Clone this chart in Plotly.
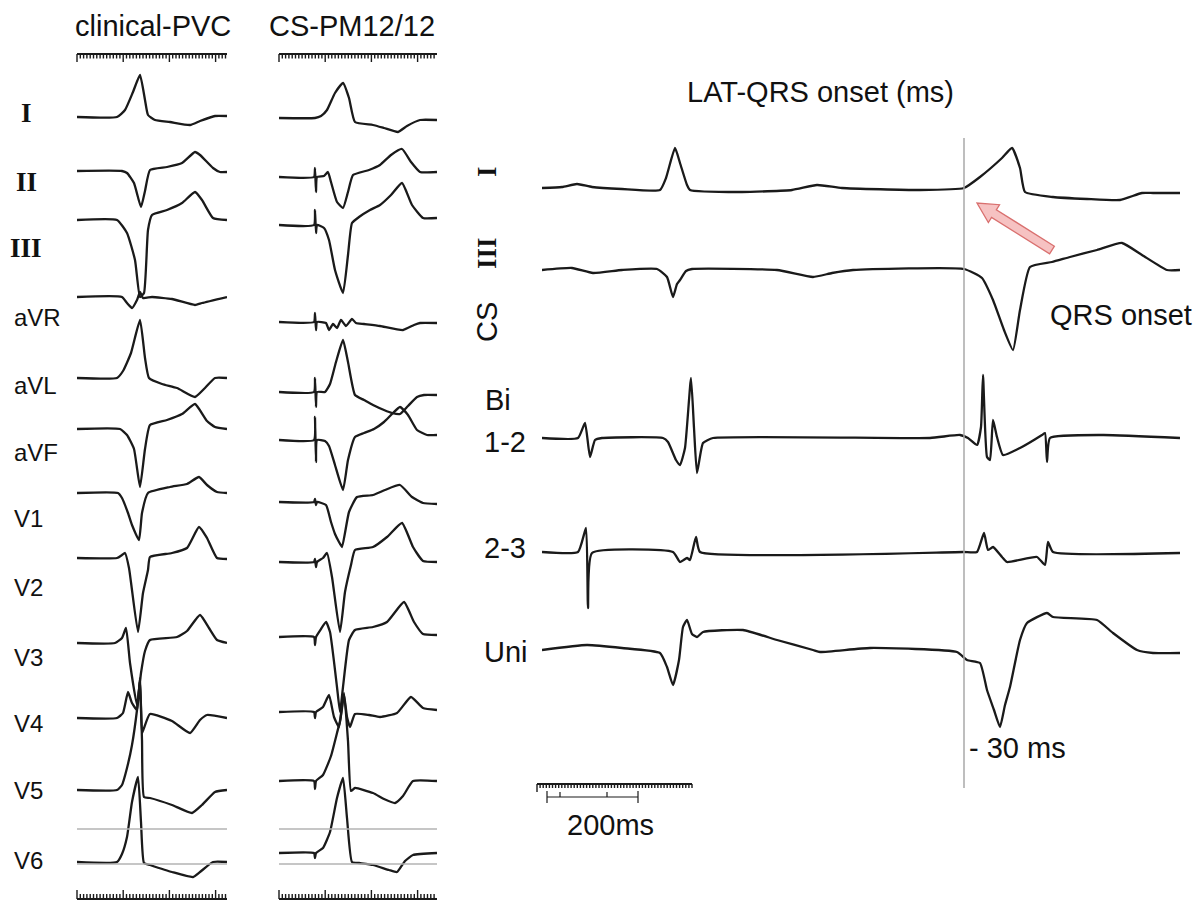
import numpy as np
import plotly.graph_objects as go

W, H = 1196, 902

# ---------------- data: 12-lead ECG, clinical PVC (sample index, amplitude) ----------------
lead_names = ["I", "II", "III", "aVR", "aVL", "aVF", "V1", "V2", "V3", "V4", "V5", "V6"]

pvc_I = [(0,0),(40,0),(48,7),(56,25),(63,42),(68,17),(71,2),(78,-3),(93,-5),(113,-8),(123,-4),(138,1),(150,1)]
pvc_II = [(0,0),(45,0),(50,-2),(57,-12),(64,-36),(68,-20),(73,1),(90,4),(105,8),(118,19),(123,16),(136,3),(143,-1),(150,-1)]
pvc_III = [(0,0),(40,0),(50,-13),(58,-40),(63,-77),(67,-73),(71,-10),(75,5),(90,10),(105,17),(118,28),(125,20),(136,2),(150,0)]
pvc_aVR = [(0,0),(45,0),(50,-6),(55,-11),(60,-3),(63,5),(66,-1),(75,0),(95,-2),(118,-8),(125,-6),(150,0)]
pvc_aVL = [(0,0),(40,0),(46,7),(54,25),(63,58),(68,20),(72,0),(85,-6),(100,-10),(118,-19),(128,-10),(138,0),(150,0)]
pvc_aVF = [(0,0),(43,0),(50,-6),(57,-20),(63,-58),(68,-20),(73,4),(90,9),(105,15),(118,25),(130,8),(138,2),(150,0)]
pvc_V1 = [(0,0),(41,0),(45,-5),(51,-20),(55,-32),(62,-47),(65,-20),(71,0),(93,6),(110,9),(122,16),(130,8),(140,1),(150,0)]
pvc_V2 = [(0,0),(40,0),(45,3),(48,5),(52,-10),(61,-74),(66,-35),(71,-12),(73,1),(95,5),(110,10),(122,31),(130,20),(140,0),(150,-1)]
pvc_V3 = [(0,0),(38,0),(45,5),(49,15),(53,-20),(60,-62),(64,-30),(68,-8),(73,3),(100,6),(110,12),(123,28),(132,15),(140,3),(150,0)]
pvc_V4 = [(0,0),(40,0),(46,5),(51,26),(55,15),(60,8),(63,40),(65,-15),(67,-10),(73,4),(95,-3),(113,-15),(123,-2),(130,3),(150,0)]
pvc_V5 = [(0,0),(40,0),(45,5),(50,22),(55,45),(60,80),(63,110),(65,50),(67,-7),(73,-8),(95,-15),(115,-23),(125,-15),(138,-2),(150,0)]
pvc_V6 = [(0,0),(40,0),(45,8),(50,25),(55,60),(61,85),(64,40),(67,-1),(73,-3),(95,-10),(116,-15),(123,-10),(136,0),(150,0)]

# ---------------- data: 12-lead ECG, CS pace-map 12/12 ----------------
pm_I = [(0,0),(36,0),(42,2),(48,8),(56,25),(64,35),(70,20),(76,-4),(94,-7),(105,-10),(119,-14),(128,-8),(141,-2),(158,-2)]
pm_II = [(0,0),(35,0),(36,9),(37,-15),(38,0),(45,1),(49,5),(52,-5),(58,-25),(64,-31),(69,-15),(74,2),(90,7),(101,12),(112,22),(123,28),(132,15),(141,5),(158,5)]
pm_III = [(0,0),(35,0),(36,15),(37,-8),(38,0),(45,-3),(50,-15),(56,-45),(64,-68),(69,-30),(73,2),(80,8),(91,15),(101,20),(112,30),(123,42),(133,20),(144,7),(158,7)]
pm_aVR = [(0,0),(35,0),(36,9),(37,-8),(38,0),(47,-1),(50,-8),(54,-2),(58,-6),(62,2),(67,-4),(73,3),(77,-1),(85,-2),(101,-4),(124,-8),(135,-3),(141,-1),(158,-1)]
pm_aVL = [(0,0),(35,0),(36,14),(37,-15),(38,0),(46,0),(51,8),(57,30),(64,52),(69,30),(76,-3),(85,-8),(94,-13),(105,-18),(113,-21),(121,-22),(129,-14),(138,-5),(145,-3),(158,-3)]
pm_aVF = [(0,0),(35,0),(36,23),(37,-22),(38,0),(46,-1),(50,-6),(56,-25),(64,-50),(69,-20),(76,3),(85,7),(95,11),(105,18),(113,26),(121,33),(129,25),(138,10),(148,5),(158,5)]
pm_V1 = [(0,0),(35,0),(36,3),(37,-3),(38,0),(47,-3),(52,-20),(56,-32),(60,-40),(63,-45),(70,-10),(78,5),(94,7),(106,12),(121,17),(133,5),(144,-1),(158,-2)]
pm_V2 = [(0,0),(35,0),(36,3),(37,-5),(38,0),(44,4),(48,9),(53,-15),(61,-70),(66,-30),(72,-3),(76,12),(94,15),(108,25),(123,39),(134,15),(144,1),(158,0)]
pm_V3 = [(0,0),(35,0),(36,-8),(37,0),(42,8),(47,15),(51,5),(58,-50),(61,-75),(64,-50),(70,-3),(76,7),(94,10),(108,15),(125,35),(135,15),(144,3),(158,2)]
pm_V4 = [(0,0),(35,0),(36,-6),(37,0),(44,5),(50,17),(55,-5),(60,-15),(65,17),(68,-5),(71,-15),(76,-2),(90,-3),(101,-5),(118,-1),(132,15),(144,4),(158,2)]
pm_V5 = [(0,0),(35,0),(36,-8),(37,0),(44,6),(52,25),(58,48),(61,60),(65,88),(69,40),(72,-10),(76,-7),(94,-12),(105,-18),(116,-22),(124,-15),(134,0),(158,0)]
pm_V6 = [(0,0),(35,0),(36,-5),(37,0),(44,5),(51,21),(58,55),(64,75),(68,35),(73,-9),(80,-10),(94,-12),(110,-17),(118,-19),(126,-8),(134,-2),(158,0)]

# ---------------- data: surface leads + CS electrograms ----------------
cs_names = ["I", "III", "Bi 1-2", "2-3", "Uni"]
cs_I = [(0,0),(20,1),(35,4),(50,1),(80,-1),(118,-2),(124,10),(133,40),(138,25),(145,3),(148,-2),(200,-4),(250,-2),(275,3),(300,0),(378,-2),(422,0),(438,11),(460,30),(470,40),(478,20),(483,-4),(511,-9),(545,-11),(578,-12),(600,-5),(611,-5),(638,-5)]
cs_III = [(0,0),(30,2),(51,-3),(80,0),(115,1),(125,-7),(131,-27),(135,-14),(138,-10),(144,-1),(150,1),(235,0),(271,-7),(290,-3),(311,0),(422,1),(440,-8),(451,-30),(462,-60),(471,-80),(478,-40),(488,3),(510,8),(528,13),(555,20),(580,27),(600,15),(625,0),(638,0)]
cs_bi12 = [(0,0),(36,0),(43,15),(48,-19),(53,-2),(60,0),(121,0),(126,-4),(134,-22),(138,-27),(143,-10),(149,60),(152,10),(155,-35),(161,-5),(171,0),(388,0),(418,3),(426,0),(435,-7),(439,11),(441,63),(445,-19),(448,-22),(451,18),(455,1),(461,-17),(478,-10),(500,3),(503,5),(505,-24),(508,0),(561,3),(638,0)]
cs_bi23 = [(0,0),(36,0),(44,24),(46,-56),(50,-1),(131,0),(138,-10),(145,-6),(148,-8),(154,15),(158,0),(421,0),(435,0),(442,19),(446,2),(451,5),(460,-5),(465,-10),(495,-5),(503,-13),(506,10),(511,0),(638,-1)]
cs_uni = [(0,0),(45,5),(80,2),(118,-3),(125,-17),(131,-35),(137,-10),(141,23),(145,30),(150,16),(155,13),(161,18),(201,20),(235,10),(271,0),(278,-2),(328,2),(415,-2),(425,-10),(438,-13),(445,-40),(452,-60),(458,-77),(463,-55),(468,-37),(478,10),(485,27),(505,37),(511,33),(555,30),(571,17),(595,0),(611,-3),(638,-3)]

qrs_onset_t = 422          # QRS onset in right panel (samples)
lat_label = "- 30 ms"

pvc_leads = [pvc_I, pvc_II, pvc_III, pvc_aVR, pvc_aVL, pvc_aVF, pvc_V1, pvc_V2, pvc_V3, pvc_V4, pvc_V5, pvc_V6]
pm_leads = [pm_I, pm_II, pm_III, pm_aVR, pm_aVL, pm_aVF, pm_V1, pm_V2, pm_V3, pm_V4, pm_V5, pm_V6]
cs_leads = [cs_I, cs_III, cs_bi12, cs_bi23, cs_uni]

# ---------------- layout (row baselines in pixels from top) ----------------
pvc_rows = [117, 171, 220, 297, 378, 429, 493, 558, 643, 718, 790, 862]
pm_rows = [118, 177, 225, 322, 392, 440, 502, 562, 637, 712, 781, 853]
cs_rows = [188, 270, 438, 552, 650]

P1 = (77, 227)
P2 = (279, 437)
P3 = (542, 1180)

INK = "#1a1a1a"
GRAY = "#b3b3b3"

fig = go.Figure()

def add_lead(pts, row, xa, name):
    t, v = zip(*pts)
    fig.add_trace(go.Scatter(
        x=list(t), y=[-row + a for a in v], mode="lines",
        line=dict(color=INK, width=2.3, shape="spline", smoothing=0.45),
        xaxis=xa, yaxis="y",
        name=name, showlegend=False, hoverinfo="skip"))

for pts, row, nm in zip(pvc_leads, pvc_rows, lead_names):
    add_lead(pts, row, "x", "PVC " + nm)
for pts, row, nm in zip(pm_leads, pm_rows, lead_names):
    add_lead(pts, row, "x2", "PM " + nm)
for pts, row, nm in zip(cs_leads, cs_rows, cs_names):
    add_lead(pts, row, "x3", nm)

def px(x):
    return x / W

layout_axes = dict(visible=False, fixedrange=True)
fig.update_layout(
    width=W, height=H, margin=dict(l=0, r=0, t=0, b=0),
    paper_bgcolor="white", plot_bgcolor="white",
    xaxis=dict(domain=[px(P1[0]), px(P1[1])], range=[0, P1[1] - P1[0]], anchor="y", **layout_axes),
    xaxis2=dict(domain=[px(P2[0]), px(P2[1])], range=[0, P2[1] - P2[0]], anchor="y", **layout_axes),
    xaxis3=dict(domain=[px(P3[0]), px(P3[1])], range=[0, P3[1] - P3[0]], anchor="y", **layout_axes),
    yaxis=dict(domain=[0, 1], range=[-H, 0], anchor="x", **layout_axes),
    showlegend=False,
)

shapes = []
def seg(x0, y0, x1, y1, color=INK, width=1.5):
    shapes.append(dict(type="line", xref="paper", yref="y", x0=px(x0), x1=px(x1),
                       y0=-y0, y1=-y1, line=dict(color=color, width=width)))

# rulers (top, ticks downward) and bottom (ticks upward)
def ruler(x0, x1, y, direction, major_every=14, step=3.3, minor=4.5, major=8):
    seg(x0, y, x1, y, width=2)
    xs = np.arange(x0, x1 + 0.1, step)
    path = ""
    for i, xv in enumerate(xs):
        ln = major if i % major_every == 0 else minor
        path += f"M{px(xv)},{-y} L{px(xv)},{-(y + direction * ln)} "
    shapes.append(dict(type="path", xref="paper", yref="y", path=path,
                       line=dict(color=INK, width=1.4)))

ruler(P1[0], P1[1], 54, 1)
ruler(P2[0], P2[1], 54, 1)
ruler(P1[0], P1[1], 899, -1, minor=5, major=9)
ruler(P2[0], P2[1], 899, -1, minor=5, major=9)

# calibration grey lines in V6 area
for (a, b) in (P1, P2):
    seg(a, 829, b, 829, color=GRAY, width=1.3)
    seg(a, 864, b, 864, color=GRAY, width=1.3)

# QRS onset vertical line (data coordinate on right panel)
shapes.append(dict(type="line", xref="x3", yref="y", x0=qrs_onset_t, x1=qrs_onset_t,
                   y0=-138, y1=-788, line=dict(color="#a8a8a8", width=1.5)))

# scale bar (200 ms)
ruler(537, 692, 784, 1, major_every=100, step=3.1, minor=4)
seg(547, 797, 638, 797, width=1.2)
for xv, ln in ((547, 6), (638, 6), (560, 5), (607, 5)):
    seg(xv, 797 - ln, xv, 797 + (ln if xv in (547, 638) else 0), width=1.2)

# block arrow pointing at QRS onset
tail = np.array([1052.0, 250.0])
tip = np.array([977.0, 203.0])
d = (tip - tail) / np.linalg.norm(tip - tail)
n = np.array([-d[1], d[0]])
sw, hw, hl = 9.0, 21.0, 20.0
neck = tip - d * hl
poly = [tail + n * sw / 2, neck + n * sw / 2, neck + n * hw / 2, tip,
        neck - n * hw / 2, neck - n * sw / 2, tail - n * sw / 2]
path = "M" + " L".join(f"{px(p[0])},{-p[1]}" for p in poly) + " Z"
shapes.append(dict(type="path", xref="paper", yref="y", path=path,
                   fillcolor="#f6c2c2", line=dict(color="#d9706f", width=1.3)))

fig.update_layout(shapes=shapes)

SANS = "Liberation Sans, Arial, sans-serif"
SERIF = "Liberation Serif, DejaVu Serif, serif"
ann = []
def text(s, x, y, size=29, anchor="center", family=SANS, angle=0):
    ann.append(dict(text=s, x=px(x), y=-y, xref="paper", yref="y", showarrow=False,
                    xanchor=anchor, yanchor="middle", textangle=angle,
                    font=dict(family=family, size=size, color="#111111")))

text("clinical-PVC", 153, 26)
text("CS-PM12/12", 352, 26)
text("LAT-QRS onset (ms)", 820, 92)

roman = {"I": "I", "II": "II", "III": "III"}
left_label_y = [113, 182, 248, 317, 385, 452, 518, 587, 657, 723, 790, 860]
for nm, yv in zip(lead_names, left_label_y):
    if nm in roman:
        text("<b>" + roman[nm] + "</b>", 26, yv, size=27, family=SERIF)
    else:
        text(nm, 12, yv, size=24, anchor="left")

text("<b>I</b>", 487, 172, size=27, family=SERIF, angle=-90)
text("<b>III</b>", 487, 253, size=27, family=SERIF, angle=-90)
text("CS", 487, 322, size=29, angle=-90)
text("Bi", 483, 400, anchor="left")
text("1-2", 482, 442, anchor="left")
text("2-3", 482, 548, anchor="left")
text("Uni", 482, 652, anchor="left")
text("QRS onset", 1048, 315, anchor="left")
text(lat_label, 967, 748, anchor="left")
text("200ms", 610, 825)

fig.update_layout(annotations=ann)
fig.write_html("out.html")
